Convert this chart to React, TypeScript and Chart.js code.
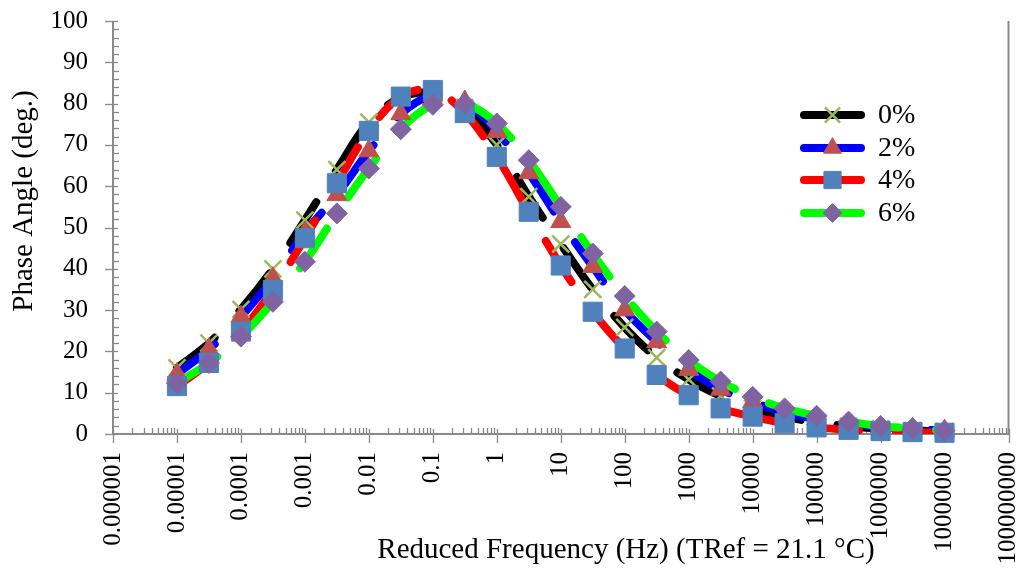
import React, { useEffect, useRef } from 'react';
import { Chart, registerables } from 'chart.js';
import { drawPoint } from 'chart.js/helpers';

Chart.register(...registerables);

// ---------------- DATA ----------------
const xTickLabels = [
  '0.000001', '0.00001', '0.0001', '0.001', '0.01', '0.1', '1', '10',
  '100', '1000', '10000', '100000', '1000000', '10000000', '100000000',
];
const yTickValues = [0, 10, 20, 30, 40, 50, 60, 70, 80, 90, 100];

const frequencies = [
  0.00001, 0.0000316, 0.0001, 0.000316, 0.001, 0.00316, 0.01, 0.0316, 0.1, 0.316,
  1, 3.16, 10, 31.6, 100, 316, 1000, 3160, 10000, 31600, 100000, 316000,
  1000000, 3160000, 10000000,
];

const seriesNames = ['0%', '2%', '4%', '6%'];

const phase0 = [16, 22, 30.2, 40, 51.8, 64, 75.5, 81.5, 82.5, 79, 70, 57.5, 46, 35, 25.8, 18.5, 13.2, 9.2, 6.2, 4.2, 2.8, 1.9, 1.3, 0.9, 0.6];
const phase2 = [14.5, 20.5, 28.4, 37.7, 48.8, 57.9, 68.5, 77.5, 82, 80.5, 73.2, 63.2, 51.4, 40.5, 30, 22.3, 15.6, 10.8, 7.8, 5.2, 3.6, 2.5, 1.7, 1.2, 0.8];
const phase4 = [11.6, 17.2, 24.8, 34.9, 47.4, 60.7, 73.4, 81.7, 83.3, 77.7, 67.1, 53.8, 40.8, 29.6, 20.7, 14.3, 9.4, 6.2, 4.2, 2.6, 1.6, 1.0, 0.7, 0.45, 0.3];
const phase6 = [12.3, 17.2, 23.6, 32, 41.7, 53.4, 64.3, 73.8, 79.7, 80, 75.2, 66.3, 55, 43.7, 33.4, 24.8, 17.9, 12.7, 9, 6.2, 4.4, 3, 1.9, 1.4, 0.8];

const seriesValues = [phase0, phase2, phase4, phase6];

const xTitle = 'Reduced Frequency (Hz) (TRef = 21.1 °C)';
const yTitle = 'Phase Angle (deg.)';

// ---------------- STYLES ----------------
const FONT = "'Liberation Serif', 'Times New Roman', serif";
const lineColors = ['#000000', '#0000FF', '#FF0000', '#00FF00'];
const markerColors = ['#9BBB59', '#C0504D', '#4F81BD', '#8064A2'];
const markerStyles = ['crossRot', 'triangle', 'rect', 'rectRot'];
const markerRadius = [12, 11.5, 13.5, 10.5];
const markerBorder = [2.5, 1, 1, 1];
const AXIS_COLOR = '#898989';

const decadeValues = xTickLabels.map((s) => Number(s));

const axesPlugin = {
  id: 'customAxes',
  beforeDatasetsDraw(chart: any) {
    const { ctx, chartArea: a, scales } = chart;
    const x = scales.x;
    const y = scales.y;
    ctx.save();
    ctx.strokeStyle = AXIS_COLOR;
    const seg = (x1: number, y1: number, x2: number, y2: number) => {
      ctx.beginPath();
      ctx.moveTo(x1, y1);
      ctx.lineTo(x2, y2);
      ctx.stroke();
    };
    // y minor ticks
    ctx.lineWidth = 1.3;
    for (let v = 0; v <= 100; v += 2) {
      if (v % 10 === 0) continue;
      const py = Math.round(y.getPixelForValue(v)) + 0.5;
      seg(a.left, py, a.left + 6, py);
    }
    // y major ticks
    for (const v of yTickValues) {
      const py = Math.round(y.getPixelForValue(v)) + 0.5;
      seg(a.left - 8, py, a.left + 5, py);
    }
    // x minor ticks
    for (let i = 0; i < decadeValues.length - 1; i++) {
      for (let d = 2; d <= 9; d++) {
        const px = Math.round(x.getPixelForValue(decadeValues[i] * d)) + 0.5;
        seg(px, a.bottom - 6, px, a.bottom);
      }
    }
    // x major ticks
    for (const v of decadeValues) {
      const px = Math.round(x.getPixelForValue(v)) + 0.5;
      seg(px, a.bottom - 5, px, a.bottom + 9);
    }
    // axis lines
    ctx.lineWidth = 2;
    seg(a.left, a.top, a.left, a.bottom + 1);
    seg(a.left - 1, a.bottom, a.right + 1, a.bottom);
    seg(a.right, a.top, a.right, a.bottom);
    ctx.restore();
  },
  afterDraw(chart: any) {
    const { ctx } = chart;
    ctx.save();
    ctx.fillStyle = '#000';
    // axis titles
    ctx.font = `29px ${FONT}`;
    ctx.textAlign = 'center';
    ctx.textBaseline = 'middle';
    ctx.fillText(xTitle, 626, 550);
    ctx.save();
    ctx.translate(24, 201);
    ctx.rotate(-Math.PI / 2);
    ctx.fillText(yTitle, 0, 0);
    ctx.restore();
    // legend
    const rowY = [115, 148, 180, 213];
    for (let i = 0; i < seriesNames.length; i++) {
      const yy = rowY[i];
      ctx.strokeStyle = lineColors[i];
      ctx.lineWidth = 8;
      ctx.lineCap = 'round';
      ctx.beginPath();
      ctx.moveTo(804, yy);
      ctx.lineTo(861, yy);
      ctx.stroke();
      ctx.fillStyle = markerColors[i];
      ctx.strokeStyle = markerColors[i];
      ctx.lineWidth = markerBorder[i];
      ctx.lineCap = 'butt';
      drawPoint(ctx, { pointStyle: markerStyles[i] as any, radius: markerRadius[i] * 0.9, rotation: 0, borderWidth: markerBorder[i] }, 832.5, yy);
      ctx.fillStyle = '#000';
      ctx.font = `28px ${FONT}`;
      ctx.textAlign = 'left';
      ctx.textBaseline = 'middle';
      ctx.fillText(seriesNames[i], 878, yy + 1);
    }
    ctx.restore();
  },
};

export default function App() {
  const canvasRef = useRef<HTMLCanvasElement | null>(null);

  useEffect(() => {
    if (!canvasRef.current) return;
    const lineSets = seriesValues.map((vals, i) => ({
      label: seriesNames[i] + ' line',
      data: vals.map((v, k) => ({ x: frequencies[k], y: v })),
      borderColor: lineColors[i],
      backgroundColor: lineColors[i],
      borderWidth: 8,
      borderDash: [48, 37],
      borderCapStyle: 'round' as const,
      tension: 0.35,
      pointRadius: 0,
      pointHoverRadius: 0,
      fill: false,
      order: 10 + (3 - i),
    }));
    const pointSets = seriesValues.map((vals, i) => ({
      label: seriesNames[i],
      data: vals.map((v, k) => ({ x: frequencies[k], y: v })),
      showLine: false,
      pointStyle: markerStyles[i],
      pointRadius: markerRadius[i],
      pointHoverRadius: markerRadius[i],
      pointBackgroundColor: markerColors[i],
      pointBorderColor: markerColors[i],
      pointBorderWidth: markerBorder[i],
      clip: false as any,
      order: 3 - i,
    }));

    const chart = new Chart(canvasRef.current, {
      type: 'line',
      data: { datasets: [...lineSets, ...pointSets] as any },
      plugins: [axesPlugin],
      options: {
        animation: false,
        responsive: false,
        maintainAspectRatio: false,
        devicePixelRatio: 1,
        events: [],
        layout: { padding: { left: 0, top: 21, right: 13, bottom: 0 } },
        plugins: { legend: { display: false }, tooltip: { enabled: false }, title: { display: false } },
        scales: {
          x: {
            type: 'logarithmic',
            min: 1e-6,
            max: 1e8,
            grid: { display: false, drawTicks: false },
            border: { display: false },
            afterBuildTicks: (scale: any) => {
              scale.ticks = decadeValues.map((v) => ({ value: v }));
            },
            afterFit: (scale: any) => {
              scale.height = 136;
              scale.paddingLeft = 0;
              scale.paddingRight = 0;
            },
            ticks: {
              autoSkip: false,
              maxRotation: 90,
              minRotation: 90,
              padding: 18,
              color: '#000',
              font: { family: FONT, size: 25 },
              callback: (_v: any, index: number) => xTickLabels[index],
            },
          },
          y: {
            type: 'linear',
            min: 0,
            max: 100,
            grid: { display: false, drawTicks: false },
            border: { display: false },
            afterBuildTicks: (scale: any) => {
              scale.ticks = yTickValues.map((v) => ({ value: v }));
            },
            afterFit: (scale: any) => {
              scale.width = 113;
              scale.paddingTop = 0;
              scale.paddingBottom = 0;
            },
            ticks: {
              padding: 25,
              color: '#000',
              font: { family: FONT, size: 25 },
              callback: (v: any) => String(v),
            },
          },
        },
      },
    });
    return () => chart.destroy();
  }, []);

  return (
    <div style={{ position: 'absolute', left: 0, top: 0, width: 1023, height: 570, background: '#fff' }}>
      <canvas ref={canvasRef} width={1023} height={570} style={{ width: 1023, height: 570, display: 'block' }} />
    </div>
  );
}
